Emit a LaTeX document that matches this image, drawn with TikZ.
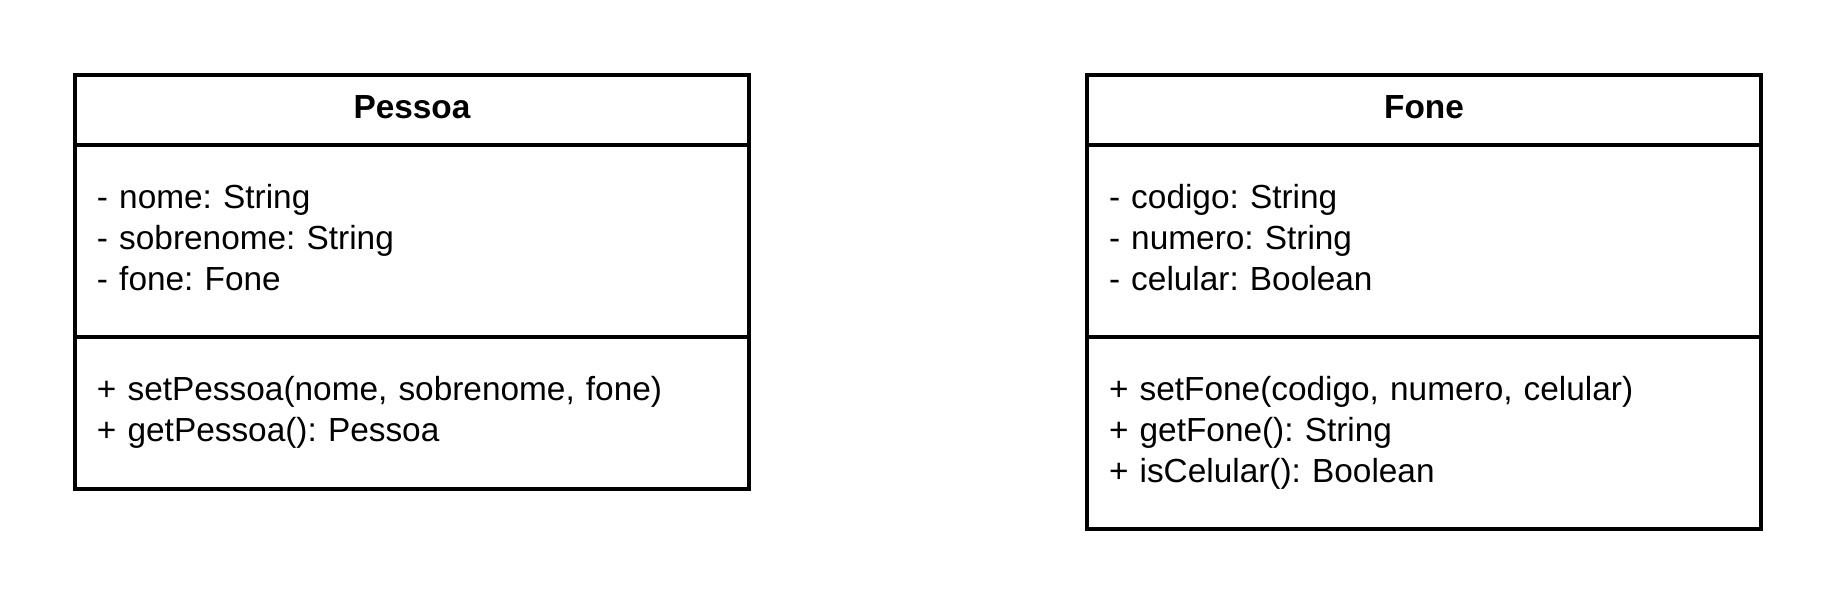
\documentclass[tikz,border=0pt]{standalone}
\usepackage{fontspec}
\setmainfont{Liberation Sans}
\frenchspacing
\usetikzlibrary{positioning}
\tikzstyle{titulo} = [rectangle, draw, line width=0.95pt, minimum width=6.74cm, minimum height=0.7cm, text width=6.3cm, align=center, inner sep=0, outer sep=0, font=\fontsize{9.5}{11.67}\selectfont\bfseries]
\tikzstyle{corpo} = [rectangle, draw, line width=0.95pt, minimum width=6.74cm, text width=6.3cm, align=left, inner ysep=0, inner xsep=0.22cm, outer sep=0, font=\fontsize{9.5}{11.67}\selectfont]
\begin{document}
\begin{tikzpicture}
\useasboundingbox (0,0) rectangle (18.38,6.04);

% classe Pessoa
\node [titulo, anchor=north west] (P) at (0.75,5.29) {\strut Pessoa};
\node [corpo, below=0pt of P, minimum height=1.92cm] (Pa) {\strut - nome: String\\\strut - sobrenome: String\\\strut - fone: Fone};
\node [corpo, below=0pt of Pa, minimum height=1.52cm] (Pm) {\strut + setPessoa(nome, sobrenome, fone)\\\strut + getPessoa(): Pessoa};

% classe Fone
\node [titulo, anchor=north west] (F) at (10.87,5.29) {\strut Fone};
\node [corpo, below=0pt of F, minimum height=1.92cm] (Fa) {\strut - codigo: String\\\strut - numero: String\\\strut - celular: Boolean};
\node [corpo, below=0pt of Fa, minimum height=1.92cm] (Fm) {\strut + setFone(codigo, numero, celular)\\\strut + getFone(): String\\\strut + isCelular(): Boolean};

\end{tikzpicture}
\end{document}
